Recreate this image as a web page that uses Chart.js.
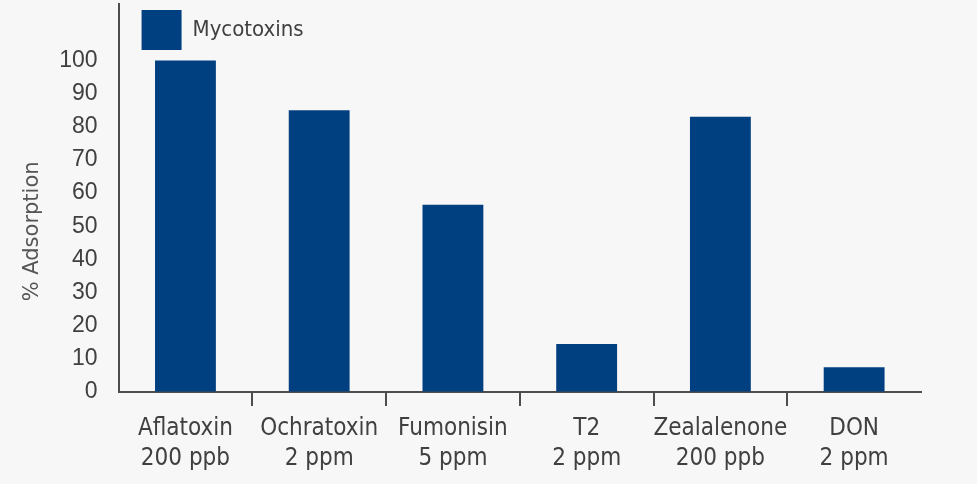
<!DOCTYPE html>
<html>
<head>
<meta charset="utf-8">
<script src="https://cdn.jsdelivr.net/npm/chart.js@4/dist/chart.umd.min.js"></script>
<style>
  html, body { margin: 0; padding: 0; background: #f7f7f7; }
  #wrap { width: 977px; height: 484px; position: relative; }
</style>
</head>
<body>
<div id="wrap"><canvas id="c"></canvas></div>
<script>
const categories = [
  ['Aflatoxin', '200 ppb'],
  ['Ochratoxin', '2 ppm'],
  ['Fumonisin', '5 ppm'],
  ['T2', '2 ppm'],
  ['Zealalenone', '200 ppb'],
  ['DON', '2 ppm']
];
const seriesName = 'Mycotoxins';
const adsorption = [100, 85, 56.5, 14.5, 83, 7.5];
const yTickMax = 100;
const yTickStep = 10;
const yTitle = '% Adsorption';

const navy = '#003f80';
const textGray = '#404040';
const axisGray = '#4d4d4d';
const labelFont = "'DejaVu Sans Condensed', 'Liberation Sans Narrow', sans-serif";

const legendShift = {
  id: 'legendShift',
  beforeDraw(chart) {
    if (chart.legend) {
      chart.legend.left = chart.chartArea.left + 17;
      chart.legend.top = 4;
    }
  }
};

new Chart(document.getElementById('c'), {
  type: 'bar',
  data: {
    labels: categories,
    datasets: [{
      label: seriesName,
      data: adsorption,
      backgroundColor: navy,
      borderWidth: 0,
      barPercentage: 0.455,
      categoryPercentage: 1
    }]
  },
  plugins: [legendShift],
  options: {
    responsive: true,
    maintainAspectRatio: false,
    animation: false,
    layout: { padding: { left: 12, right: 56, top: 4, bottom: 2 } },
    plugins: {
      tooltip: { enabled: false },
      legend: {
        position: 'chartArea',
        align: 'start',
        labels: {
          boxWidth: 40,
          boxHeight: 40,
          padding: 6,
          color: textGray,
          font: { family: labelFont, size: 22 }
        }
      }
    },
    scales: {
      x: {
        grid: {
          offset: true,
          drawOnChartArea: false,
          drawTicks: true,
          tickLength: 14,
          lineWidth: 2,
          color: (ctx) => (ctx.index > 0 && ctx.index < categories.length) ? axisGray : 'rgba(0,0,0,0)'
        },
        border: { display: true, color: axisGray, width: 2 },
        ticks: {
          color: textGray,
          padding: 8,
          maxRotation: 0,
          autoSkip: false,
          font: { family: labelFont, size: 24, lineHeight: 1.25 }
        }
      },
      y: {
        min: 0,
        max: 117,
        afterBuildTicks: (scale) => {
          const t = [];
          for (let v = 0; v <= yTickMax; v += yTickStep) t.push({ value: v });
          scale.ticks = t;
        },
        grid: {
          display: true,
          drawOnChartArea: false,
          drawTicks: true,
          tickLength: 21,
          tickColor: 'rgba(0,0,0,0)'
        },
        border: { display: true, color: axisGray, width: 2 },
        ticks: {
          color: textGray,
          padding: 0,
          font: { family: "'Liberation Sans', Arial, sans-serif", size: 23, lineHeight: 0.35 }
        },
        title: {
          display: true,
          text: yTitle + '          ',
          color: '#555555',
          padding: { top: 8, bottom: 14 },
          font: { family: "'DejaVu Sans', sans-serif", size: 21 }
        }
      }
    }
  }
});
</script>
</body>
</html>
